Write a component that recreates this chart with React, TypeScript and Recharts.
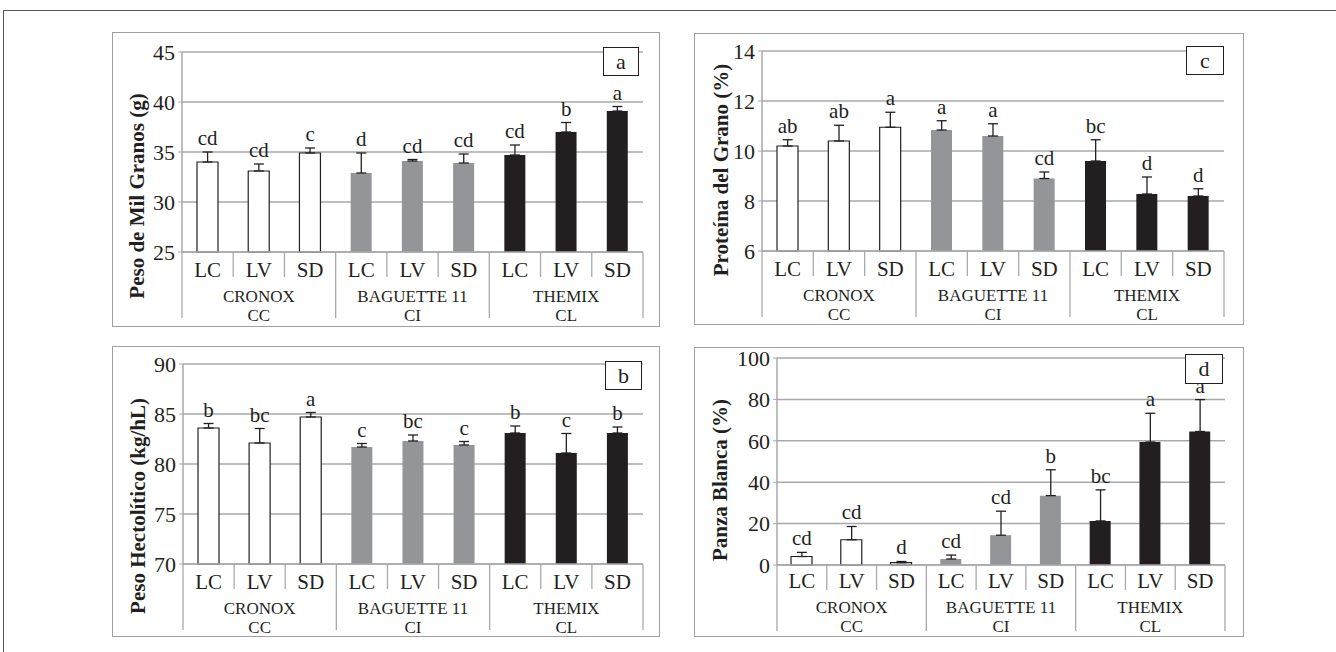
import React from 'react';
import { ComposedChart, Bar, Line, Cell, XAxis, YAxis, CartesianGrid, ErrorBar, LabelList } from 'recharts';

const SUBS = ['LC', 'LV', 'SD', 'LC', 'LV', 'SD', 'LC', 'LV', 'SD'];
const CULTIVARS = ['CRONOX', 'BAGUETTE 11', 'THEMIX'];
const CODES = ['CC', 'CI', 'CL'];

// Peso de Mil Granos (g)
const pmgValues = [34.0, 33.1, 34.9, 32.9, 34.1, 33.9, 34.7, 37.0, 39.1];
const pmgTops = [35.0, 33.8, 35.4, 34.9, 34.25, 34.8, 35.7, 37.95, 39.55];
const pmgLetters = ['cd', 'cd', 'c', 'd', 'cd', 'cd', 'cd', 'b', 'a'];
const pmgTicks = [25, 30, 35, 40, 45];

// Peso Hectolítico (kg/hL)
const phValues = [83.6, 82.1, 84.7, 81.7, 82.3, 81.9, 83.1, 81.1, 83.1];
const phTops = [84.05, 83.55, 85.15, 82.05, 82.9, 82.25, 83.8, 83.05, 83.7];
const phLetters = ['b', 'bc', 'a', 'c', 'bc', 'c', 'b', 'c', 'b'];
const phTicks = [70, 75, 80, 85, 90];

// Proteína del Grano (%)
const protValues = [10.2, 10.4, 10.95, 10.84, 10.6, 8.9, 9.6, 8.28, 8.2];
const protTops = [10.45, 11.03, 11.55, 11.21, 11.09, 9.16, 10.45, 8.96, 8.49];
const protLetters = ['ab', 'ab', 'a', 'a', 'a', 'cd', 'bc', 'd', 'd'];
const protTicks = [6, 8, 10, 12, 14];

// Panza Blanca (%)
const pbValues = [4.1, 12.2, 1.1, 2.9, 14.4, 33.5, 21.3, 59.4, 64.5];
const pbTops = [6.1, 18.6, 1.7, 4.8, 26.0, 46.0, 36.3, 73.3, 79.9];
const pbLetters = ['cd', 'cd', 'd', 'cd', 'cd', 'b', 'bc', 'a', 'a'];
const pbTicks = [0, 20, 40, 60, 80, 100];

const GROUP_FILL = ['#ffffff', '#939598', '#231f20'];
const INK = '#231f20';
const GRID = '#a7a9ac';
const FONT = '"Liberation Serif", "DejaVu Serif", serif';

const buildRows = (values: number[], tops: number[], letters: string[]) =>
    values.map((v, i) => ({
        sub: SUBS[i],
        grp: Math.floor(i / 3),
        v,
        top: tops[i],
        err: [0, tops[i] - v],
        letter: letters[i],
    }));

const CatTick = (props: any) => {
    const { x, y, payload, band, shift = 0 } = props;
    const i = props.index ?? payload.index;
    const left = x - band / 2;
    const long = i % 3 === 0;
    return (
        <g fontFamily={FONT}>
            <line x1={left} x2={left} y1={y} y2={y + (long ? 66 : 25)} stroke={GRID} strokeWidth={1.3} />
            {i === 8 && <line x1={x + band / 2} x2={x + band / 2} y1={y} y2={y + 66} stroke={GRID} strokeWidth={1.3} />}
            <text x={x} y={y + 25 - shift} textAnchor="middle" fontSize={21} fill={INK}>{payload.value}</text>
            {i % 3 === 1 && (
                <>
                    <text x={x} y={y + 50 - shift} textAnchor="middle" fontSize={17} fill={INK}>{CULTIVARS[Math.floor(i / 3)]}</text>
                    <text x={x} y={y + 69 - shift} textAnchor="middle" fontSize={17} fill={INK}>{CODES[Math.floor(i / 3)]}</text>
                </>
            )}
        </g>
    );
};

const AxisTitle = ({ cx, cy, text }: any) => (
    <text x={cx} y={cy} transform={`rotate(-90 ${cx} ${cy})`} textAnchor="middle" dominantBaseline="central"
          fontFamily={FONT} fontSize={21} fontWeight="bold" fill={INK}>{text}</text>
);

interface PanelProps {
    box: { x: number; y: number; w: number; h: number };
    yAxisW: number;
    topM: number;
    rightM: number;
    xAxisH: number;
    tickShift?: number;
    ticks: number[];
    rows: any[];
    title: string;
    titlePos: [number, number];
    tag: string;
    tagBox: { x: number; y: number; w: number; h: number };
}

const Panel: React.FC<PanelProps> = ({ box, yAxisW, topM, rightM, xAxisH, tickShift = 0, ticks, rows, title, titlePos, tag, tagBox }) => {
    const band = (box.w - yAxisW - rightM) / 9;
    return (
        <div style={{ position: 'absolute', left: box.x, top: box.y, width: box.w, height: box.h }}>
            <ComposedChart width={box.w} height={box.h} data={rows} margin={{ top: topM, right: rightM, bottom: 0, left: 0 }}
                           style={{ overflow: 'visible', fontFamily: FONT }}>
                <CartesianGrid vertical={false} stroke={GRID} strokeWidth={1.5} />
                <XAxis dataKey="sub" interval={0} tickLine={false} tickSize={0} tickMargin={0} height={xAxisH}
                       axisLine={{ stroke: GRID, strokeWidth: 1.5 }} tick={<CatTick band={band} shift={tickShift} />} />
                <YAxis type="number" domain={[ticks[0], ticks[ticks.length - 1]]} ticks={ticks} interval={0} width={yAxisW}
                       axisLine={{ stroke: GRID, strokeWidth: 1.5 }} tickLine={{ stroke: GRID }} tickSize={4} tickMargin={3}
                       tick={{ fill: INK, fontSize: 22, fontFamily: FONT }}
                       label={<AxisTitle cx={titlePos[0]} cy={titlePos[1]} text={title} />} />
                <Line dataKey="v" stroke="none" dot={false} activeDot={false} isAnimationActive={false}>
                    <ErrorBar dataKey="err" width={5} stroke={INK} strokeWidth={1.3} direction="y" />
                </Line>
                <Bar dataKey="v" barSize={21} isAnimationActive={false}>
                    {rows.map((r, i) => (
                        <Cell key={i} fill={GROUP_FILL[r.grp]} stroke={r.grp === 0 ? INK : 'none'} strokeWidth={1.2} />
                    ))}
                </Bar>
                <Line dataKey="top" stroke="none" dot={false} activeDot={false} isAnimationActive={false}>
                    <LabelList dataKey="letter" position="top" offset={7} fill={INK} fontSize={21} fontFamily={FONT} />
                </Line>
            </ComposedChart>
            <div style={{ position: 'absolute', inset: 0, border: '1.5px solid #a0a0a0', boxSizing: 'border-box', pointerEvents: 'none' }} />
            <div style={{
                position: 'absolute', left: tagBox.x, top: tagBox.y, width: tagBox.w, height: tagBox.h,
                border: `1px solid ${INK}`, background: '#fff', boxSizing: 'border-box',
                display: 'flex', alignItems: 'center', justifyContent: 'center', fontSize: 22, color: INK, lineHeight: 1,
            }}>{tag}</div>
        </div>
    );
};

const App: React.FC = () => (
    <div style={{ position: 'absolute', left: 0, top: 0, width: 1336, height: 652, background: '#fff', overflow: 'hidden',
        fontFamily: FONT }}>
        <div style={{ position: 'absolute', left: 3, top: 10, width: 1340, height: 650, borderTop: '1.5px solid #555', borderLeft: '1.5px solid #555' }} />
        <Panel box={{ x: 112, y: 32, w: 548, h: 295 }} yAxisW={70} topM={20} rightM={17} xAxisH={75} ticks={pmgTicks}
               rows={buildRows(pmgValues, pmgTops, pmgLetters)} title="Peso de Mil Granos (g)" titlePos={[25, 164]}
               tag="a" tagBox={{ x: 491, y: 15, w: 36, h: 29 }} />
        <Panel box={{ x: 694, y: 33, w: 550, h: 292 }} yAxisW={68} topM={18} rightM={20} xAxisH={74} ticks={protTicks}
               rows={buildRows(protValues, protTops, protLetters)} title="Proteína del Grano (%)" titlePos={[27, 137]}
               tag="c" tagBox={{ x: 492, y: 13, w: 38, h: 29 }} />
        <Panel box={{ x: 112, y: 346, w: 548, h: 291 }} yAxisW={71} topM={18} rightM={17} xAxisH={73} ticks={phTicks}
               rows={buildRows(phValues, phTops, phLetters)} title="Peso Hectolítico (kg/hL)" titlePos={[26, 160]}
               tag="b" tagBox={{ x: 493, y: 15, w: 37, h: 29 }} />
        <Panel box={{ x: 694, y: 347, w: 550, h: 290 }} yAxisW={83} topM={11} rightM={19} xAxisH={72} tickShift={2} ticks={pbTicks}
               rows={buildRows(pbValues, pbTops, pbLetters)} title="Panza Blanca (%)" titlePos={[26, 133]}
               tag="d" tagBox={{ x: 491, y: 7, w: 38, h: 30 }} />
    </div>
);

export default App;
